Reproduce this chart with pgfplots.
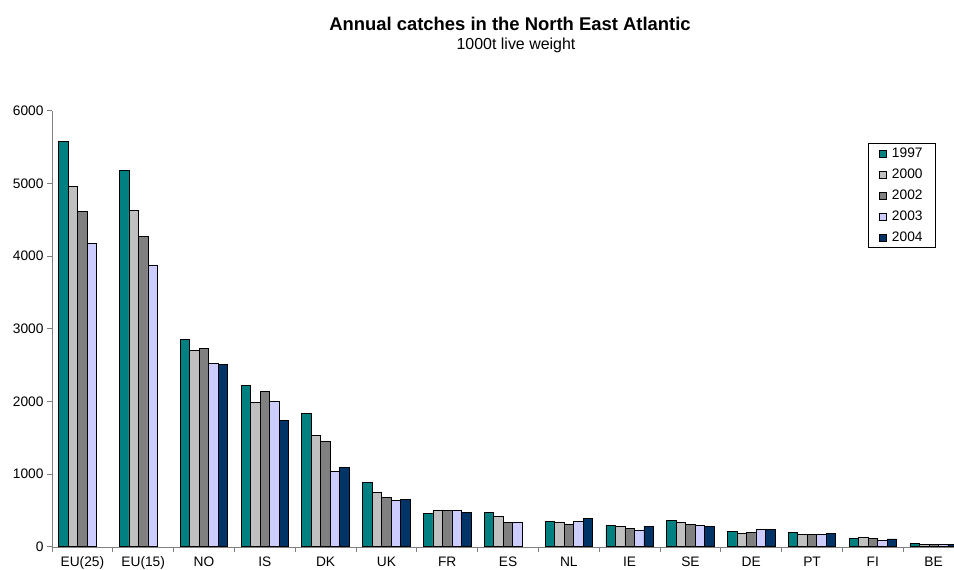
\documentclass[border=0pt]{standalone}
\usepackage{pgfplots}
\pgfplotsset{compat=1.18}
\usepackage{pgfplotstable}
\usepackage{fontspec}
\setmainfont{Liberation Sans}
\definecolor{cA}{HTML}{008080}
\definecolor{cB}{HTML}{C0C0C0}
\definecolor{cC}{HTML}{808080}
\definecolor{cD}{HTML}{CCCCFF}
\definecolor{cE}{HTML}{003366}
\definecolor{axgray}{HTML}{808080}
\pgfplotstableread{
x y1997 y2000 y2002 y2003 y2004
0 5573 4963 4619 4174 nan
1 5174 4624 4275 3872 nan
2 2853 2697 2729 2523 2509
3 2216 1991 2138 1995 1743
4 1830 1537 1445 1032 1092
5 890 743 683 633 651
6 454 495 500 495 468
7 477 422 330 339 nan
8 353 339 307 353 394
9 294 280 248 229 278
10 358 339 303 294 275
11 211 183 197 239 239
12 193 170 170 174 179
13 119 128 115 87 106
14 41 32 32 32 37
}\catches
\begin{document}
\begin{tikzpicture}
\path[use as bounding box, clip] (0bp,0bp) rectangle (954bp,570bp);
\begin{axis}[
  at={(52bp,23.3bp)}, anchor=south west,
  scale only axis, width=902bp, height=436bp,
  xmin=-0.5, xmax=14.335, ymin=0, ymax=6000,
  ybar=0pt, bar width=9.5bp,
  axis x line=bottom, axis y line=left,
  axis line style={draw=axgray, -},
  tick style={draw=axgray, line width=0.8bp},
  xtick={-0.5,0.5,...,13.5}, xticklabels={},
  extra x ticks={0,1,...,14},
  extra x tick labels={EU(25),EU(15),NO,IS,DK,UK,FR,ES,NL,IE,SE,DE,PT,FI,BE},
  extra x tick style={major tick length=0pt, tick label style={anchor=base, yshift=-19.5bp}},
  ytick={0,1000,...,6000},
  tick align=outside,
  major tick length=5bp,
  scaled y ticks=false,
  /pgf/number format/1000 sep={},
  /pgf/number format/assume math mode=true,
  tick label style={font=\fontsize{13.8}{15}\selectfont, black},
  legend style={at={(0.98,0.925)}, anchor=north east, draw=black, line width=0.8bp,
    font=\fontsize{13.8}{15}\selectfont, row sep=6bp, inner xsep=11bp, inner ysep=2bp,
    /tikz/every odd column/.append style={column sep=3bp}},
  legend cell align=left,
  legend image code/.code={\draw[#1,draw=black,line width=0.6bp] (0bp,-3.5bp) rectangle (7bp,3.5bp);},
  every axis plot/.append style={draw=black, line width=0.75bp},
]
\addplot[fill=cA] table[x=x,y=y1997]{\catches};
\addplot[fill=cB] table[x=x,y=y2000]{\catches};
\addplot[fill=cC] table[x=x,y=y2002]{\catches};
\addplot[fill=cD] table[x=x,y=y2003]{\catches};
\addplot[fill=cE] table[x=x,y=y2004]{\catches};
\legend{1997,2000,2002,2003,2004}
\end{axis}
\node[font=\bfseries\fontsize{18.5}{20}\selectfont, anchor=base] at (510bp,539bp) {Annual catches in the North East Atlantic};
\node[font=\fontsize{16}{18}\selectfont, anchor=base] at (516bp,520bp) {1000t live weight};
\end{tikzpicture}
\end{document}
